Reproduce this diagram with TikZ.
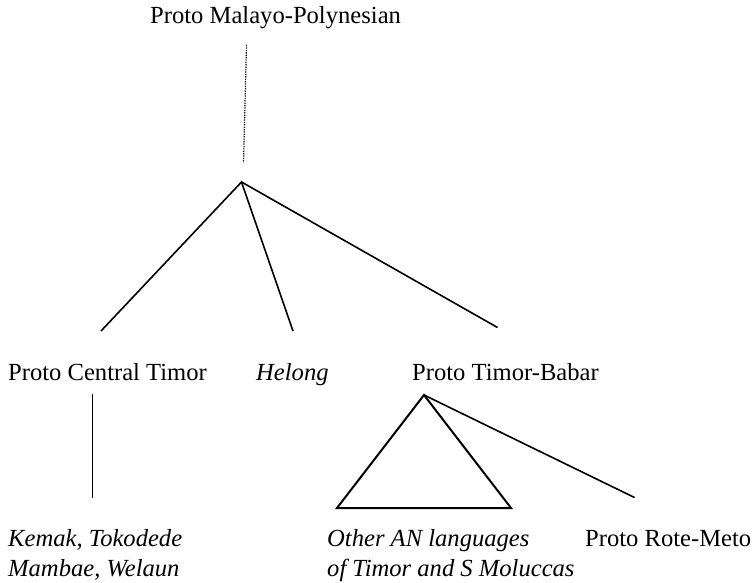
\documentclass[tikz,border=0pt]{standalone}
\usepackage{fontspec}
\setmainfont{Liberation Serif}
\begin{document}
\begin{tikzpicture}[x=1pt,y=-1pt,
  lbl/.style={anchor=base west,inner sep=0pt,font=\fontsize{24.6}{30}\selectfont},
  ilbl/.style={lbl,font=\fontsize{24.6}{30}\selectfont\itshape},
  branch/.style={draw=black,line width=1.6pt},
  dots/.style={draw=black,line width=1.2pt,dash pattern=on 1.3pt off 1.1pt}]
\useasboundingbox (0,0) rectangle (752,582);

% labels
\node[lbl]  (pmp)  at (150,23)  {Proto Malayo-Polynesian};
\node[lbl]  (pct)  at (8,380)   {Proto Central Timor};
\node[ilbl] (hel)  at (256,380) {Helong};
\node[lbl]  (ptb)  at (412,380) {Proto Timor-Babar};
\node[ilbl] (kem1) at (8,546)   {Kemak, Tokodede};
\node[ilbl] (kem2) at (8,576)   {Mambae, Welaun};
\node[ilbl] (oth1) at (327,546) {Other AN languages};
\node[ilbl] (oth2) at (327,576) {of Timor and S Moluccas};
\node[lbl]  (prm)  at (585,546) {Proto Rote-Meto};

% branching points and line ends
\coordinate (dtop) at (246.5,45);
\coordinate (dbot) at (243.5,163);
\coordinate (root) at (241.5,182);
\coordinate (epct) at (101,331);
\coordinate (ehel) at (293,331);
\coordinate (eptb) at (497.5,327.5);
\coordinate (vtop) at (92.5,394);
\coordinate (vbot) at (92.5,498);
\coordinate (tri)  at (424,395);
\coordinate (tril) at (337,508);
\coordinate (trir) at (511,508);
\coordinate (eprm) at (634.5,497.5);

% tree
\draw[dots] (dtop) -- (dbot);
\draw[branch] (epct) -- (root) -- (ehel);
\draw[branch] (root) -- (eptb);
\draw[branch] (vtop) -- (vbot);
\draw[branch,line width=2pt,line join=miter] (tri) -- (tril) -- (trir) -- cycle;
\draw[branch] (tri) -- (eprm);
\end{tikzpicture}
\end{document}
